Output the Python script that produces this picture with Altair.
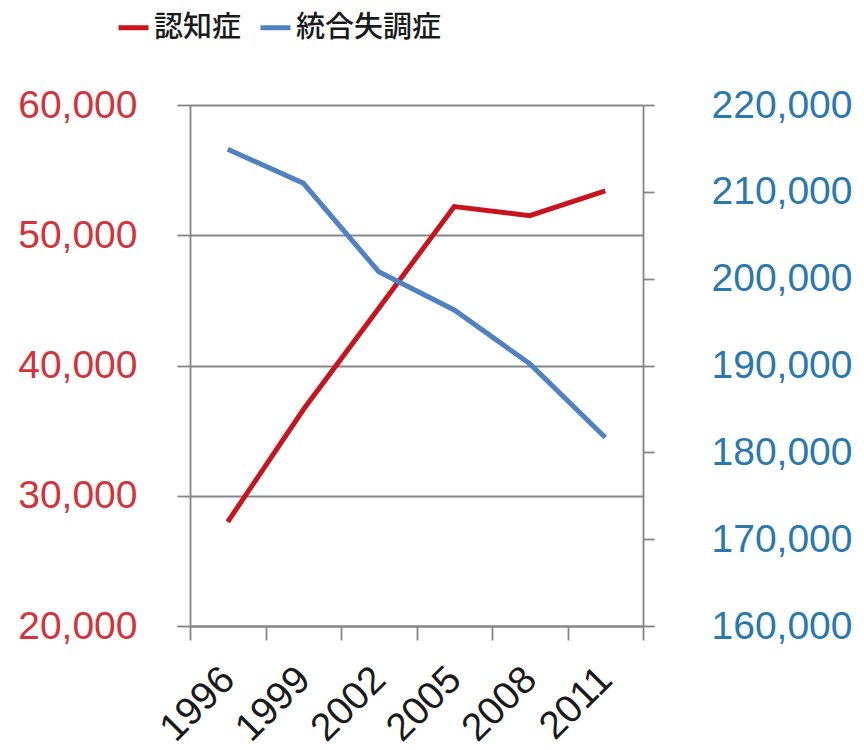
import altair as alt
import pandas as pd

years = ["1996", "1999", "2002", "2005", "2008", "2011"]
dementia = [28000, 36600, 44400, 52200, 51500, 53400]
schizophrenia = [214900, 211000, 200800, 196400, 190200, 181700]
series_names = ["認知症", "統合失調症"]
left_ticks = [20000, 30000, 40000, 50000, 60000]
right_ticks = [160000, 170000, 180000, 190000, 200000, 210000, 220000]

RED = "#C8141E"
BLUE = "#5081C0"
LEFT_LABEL = "#D3333B"
RIGHT_LABEL = "#2A78B0"
GRAY = "#858585"

df = pd.DataFrame({
    "year": years * 2,
    "series": [series_names[0]] * len(years) + [series_names[1]] * len(years),
    "value": dementia + schizophrenia,
})

color = alt.Color(
    "series:N",
    scale=alt.Scale(domain=series_names, range=[RED, BLUE]),
    legend=alt.Legend(
        title=None, orient="none", legendX=-74, legendY=-95, direction="horizontal",
        symbolType="stroke", symbolSize=900, symbolStrokeWidth=5,
        labelFont="Noto Sans CJK JP", labelFontSize=29, labelFontWeight=500,
        labelColor="#1a1a1a", columnPadding=8, labelOffset=3,
    ),
)

x = alt.X(
    "year:O", sort=years,
    scale=alt.Scale(type="band", paddingInner=0, paddingOuter=0),
    bandPosition=0.5,
    axis=alt.Axis(
        title=None, labelAngle=-45, labelAlign="right", labelBaseline="middle",
        tickBand="extent", tickSize=14, tickWidth=1.8, tickColor=GRAY,
        domainColor=GRAY, domainWidth=1.8, labelFontSize=39, labelColor="#1a1a1a",
        labelPadding=33, grid=False,
    ),
)

left = alt.Chart(df).transform_filter(
    alt.datum.series == series_names[0]
).mark_line(strokeWidth=5).encode(
    x=x,
    y=alt.Y(
        "value:Q",
        scale=alt.Scale(domain=[20000, 60000], nice=False),
        axis=alt.Axis(
            title=None, orient="left", values=left_ticks, format=",.0f",
            grid=True, gridColor=GRAY, gridWidth=1.8,
            tickSize=13, tickWidth=1.8, tickColor=GRAY, domainColor=GRAY, domainWidth=1.8,
            labelFontSize=39, labelColor=LEFT_LABEL, labelPadding=40,
        ),
    ),
    color=color,
)

right = alt.Chart(df).transform_filter(
    alt.datum.series == series_names[1]
).mark_line(strokeWidth=5).encode(
    x=x,
    y=alt.Y(
        "value:Q",
        scale=alt.Scale(domain=[160000, 220000], nice=False),
        axis=alt.Axis(
            title=None, orient="right", values=right_ticks, format=",.0f",
            grid=False,
            tickSize=11, tickWidth=1.8, tickColor=GRAY, domainColor=GRAY, domainWidth=1.8,
            labelFontSize=39, labelColor=RIGHT_LABEL, labelPadding=57,
        ),
    ),
    color=color,
)

chart = alt.layer(left, right).resolve_scale(y="independent").properties(
    width=453, height=521,
    autosize="none",
    padding={"left": 190, "top": 105, "right": 221, "bottom": 124},
).configure(font="Liberation Sans").configure_view(stroke=None)

chart.save("out.html", embed_options={"renderer": "svg", "actions": False})
